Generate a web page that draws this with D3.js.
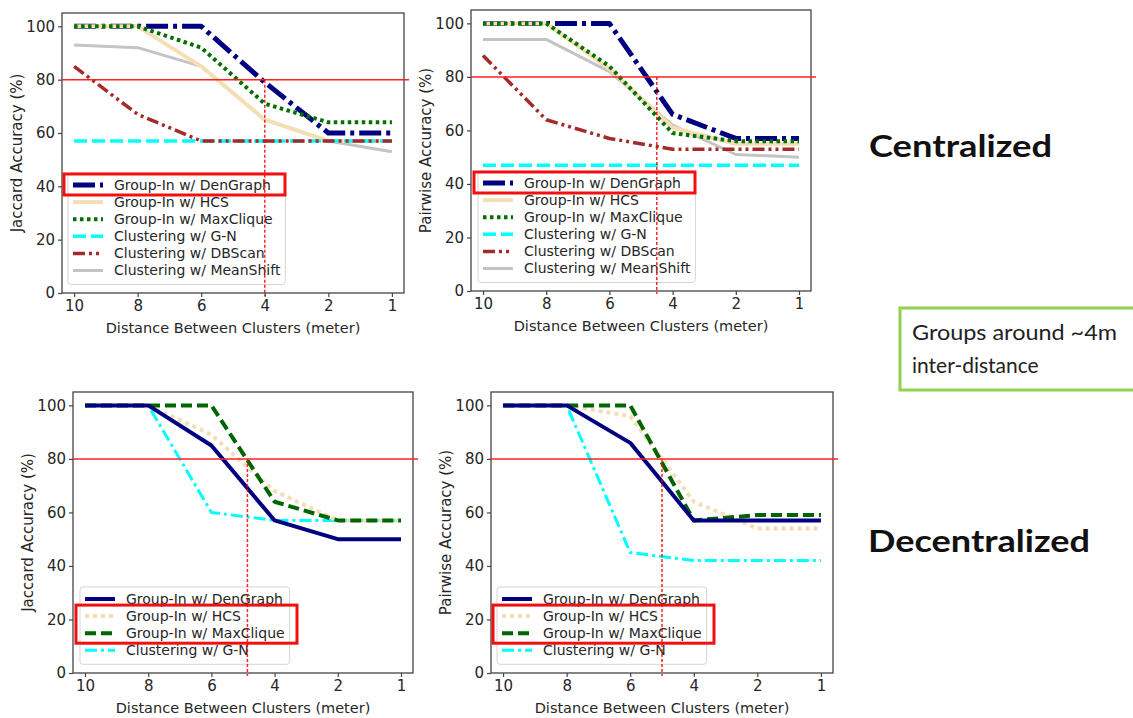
<!DOCTYPE html>
<html>
<head>
<meta charset="utf-8">
<script src="https://cdn.jsdelivr.net/npm/d3@7"></script>
<style>
  body { margin: 0; background: #fff; }
  svg { display: block; }
</style>
</head>
<body>
<svg id="chart"></svg>
<script>
// set data

const distances = ["10", "8", "6", "4", "2", "1"];
const yTicks = [0, 20, 40, 60, 80, 100];

const centralNames = [
  "Group-In w/ DenGraph",
  "Group-In w/ HCS",
  "Group-In w/ MaxClique",
  "Clustering w/ G-N",
  "Clustering w/ DBScan",
  "Clustering w/ MeanShift"
];
const decentralNames = [
  "Group-In w/ DenGraph",
  "Group-In w/ HCS",
  "Group-In w/ MaxClique",
  "Clustering w/ G-N"
];

// centralized, jaccard (series in the order of centralNames)
const centralJaccard = [
  [100, 100, 100, 79, 60, 60],
  [100, 100, 85, 65, 57, 57],
  [100, 100, 92, 71, 64, 64],
  [57, 57, 57, 57, 57, 57],
  [85, 67, 57, 57, 57, 57],
  [93, 92, 85, 65, 57, 53]
];

// centralized, pairwise
const centralPairwise = [
  [100, 100, 100, 66, 57, 57],
  [100, 100, 83, 61, 55, 55],
  [100, 100, 84, 59, 56, 56],
  [47, 47, 47, 47, 47, 47],
  [88, 64, 57, 53, 53, 53],
  [94, 94, 82, 62, 51, 50]
];

// decentralized, jaccard
const decentralJaccard = [
  [100, 100, 85, 57, 50, 50],
  [100, 100, 89, 68, 57, 57],
  [100, 100, 100, 64, 57, 57],
  [100, 100, 60, 57, 57, 57]
];

// decentralized, pairwise
const decentralPairwise = [
  [100, 100, 86, 57, 57, 57],
  [100, 100, 96, 64, 54, 54],
  [100, 100, 100, 57, 59, 59],
  [100, 100, 45, 42, 42, 42]
];

// 80% threshold and where each panel crosses it (in distance-index units)
const threshold = 80;
const crossings = [3, 2.75, 2.57, 2.5];

// line styles

const centralStyles = [
  { color: "#000080", width: 5, dash: "22,5,4,5" },
  { color: "#f5deb3", width: 4, dash: null },
  { color: "#007000", width: 4, dash: "3.5,3.5" },
  { color: "#00ffff", width: 3.5, dash: "13,5" },
  { color: "#a52a2a", width: 3.5, dash: "12,4,3,4,3,4" },
  { color: "#c4c4c4", width: 3, dash: null }
];
const decentralStyles = [
  { color: "#000080", width: 4, dash: null },
  { color: "#f5deb3", width: 4, dash: "4,4" },
  { color: "#006400", width: 4, dash: "11,5" },
  { color: "#00ffff", width: 3, dash: "12,4,3,4" }
];

// paint order of the series (first is lowest)
const centralOrder = [5, 0, 1, 2, 3, 4];
const decentralOrder = [3, 1, 2, 0];

const panels = [
  { data: centralJaccard, names: centralNames, styles: centralStyles, order: centralOrder,
    ylabel: "Jaccard Accuracy (%)", box: { l: 62, r: 404, t: 13, b: 293 },
    legend: { hx: 73, row0: 185 }, mark: [0, 0] },
  { data: centralPairwise, names: centralNames, styles: centralStyles, order: centralOrder,
    ylabel: "Pairwise Accuracy (%)", box: { l: 471, r: 811, t: 10, b: 291 },
    legend: { hx: 483, row0: 183 }, mark: [0, 0] },
  { data: decentralJaccard, names: decentralNames, styles: decentralStyles, order: decentralOrder,
    ylabel: "Jaccard Accuracy (%)", box: { l: 73, r: 413, t: 392, b: 673 },
    legend: { hx: 85, row0: 599 }, mark: [1, 2] },
  { data: decentralPairwise, names: decentralNames, styles: decentralStyles, order: decentralOrder,
    ylabel: "Pairwise Accuracy (%)", box: { l: 491, r: 833, t: 392, b: 673 },
    legend: { hx: 502, row0: 599 }, mark: [1, 2] }
];

const width = 1133, height = 718;
const font = "'DejaVu Sans', sans-serif";
const textColor = "#262626";
const rowGap = 17.1;

const svg = d3.select("#chart")
              .attr("width", width)
              .attr("height", height)
              .style("font-family", font);

panels.forEach((p, pi) => {
  const b = p.box;

  // create scales
  const x = d3.scaleLinear()
              .domain([-0.19, distances.length - 1 + 0.19])
              .range([b.l, b.r]);
  const y = d3.scaleLinear()
              .domain([0, 105])
              .range([b.b, b.t]);

  const g = svg.append("g");

  // frame
  g.append("rect")
   .attr("x", b.l).attr("y", b.t)
   .attr("width", b.r - b.l).attr("height", b.b - b.t)
   .attr("fill", "none")
   .attr("stroke", "#444")
   .attr("stroke-width", 1.3);

  // add axes
  const xAxis = g.append("g")
                 .attr("transform", `translate(0,${b.b})`)
                 .call(d3.axisBottom(x)
                         .tickValues(d3.range(distances.length))
                         .tickFormat(i => distances[i])
                         .tickSize(4)
                         .tickPadding(3));
  const yAxis = g.append("g")
                 .attr("transform", `translate(${b.l},0)`)
                 .call(d3.axisLeft(y)
                         .tickValues(yTicks)
                         .tickSize(4)
                         .tickPadding(3));

  [xAxis, yAxis].forEach(a => {
    a.select(".domain").remove();
    a.selectAll(".tick line").attr("stroke", "#444").attr("stroke-width", 1.2);
    a.selectAll(".tick text")
     .attr("fill", textColor)
     .style("font-family", font)
     .style("font-size", "15px");
  });

  // axis titles
  g.append("text")
   .attr("x", (b.l + b.r) / 2)
   .attr("y", b.b + 40)
   .attr("text-anchor", "middle")
   .attr("fill", textColor)
   .style("font-size", "14.5px")
   .text("Distance Between Clusters (meter)");

  g.append("text")
   .attr("transform", `translate(${b.l - 45},${(b.t + b.b) / 2}) rotate(-90)`)
   .attr("dy", "0.35em")
   .attr("text-anchor", "middle")
   .attr("fill", textColor)
   .style("font-size", "15px")
   .text(p.ylabel);

  // draw the lines
  const line = d3.line()
                 .x((d, i) => x(i))
                 .y(d => y(d));

  g.selectAll(".series")
   .data(p.order)
   .enter()
   .append("path")
   .attr("class", "series")
   .attr("d", k => line(p.data[k]))
   .attr("fill", "none")
   .attr("stroke", k => p.styles[k].color)
   .attr("stroke-width", k => p.styles[k].width)
   .attr("stroke-dasharray", k => p.styles[k].dash)
   .attr("stroke-linejoin", "round");

  // legend
  const lg = g.append("g");
  const frame = lg.append("rect");
  const hx = p.legend.hx, tx = hx + 41;
  let textEnd = 0;

  p.names.forEach((name, i) => {
    const cy = p.legend.row0 + i * rowGap;
    const s = p.styles[i];
    lg.append("line")
      .attr("x1", hx).attr("x2", hx + 30)
      .attr("y1", cy).attr("y2", cy)
      .attr("stroke", s.color)
      .attr("stroke-width", s.width)
      .attr("stroke-dasharray", s.dash);
    const t = lg.append("text")
                .attr("x", tx)
                .attr("y", cy)
                .attr("dy", "0.35em")
                .attr("fill", textColor)
                .style("font-size", "14px")
                .text(name);
    textEnd = Math.max(textEnd, tx + t.node().getComputedTextLength());
  });

  const n = p.names.length;
  frame.attr("x", hx - 5)
       .attr("y", p.legend.row0 - 12)
       .attr("width", textEnd + 5 - (hx - 5))
       .attr("height", (n - 1) * rowGap + 26)
       .attr("rx", 3)
       .attr("fill", "#fff")
       .attr("fill-opacity", 0.85)
       .attr("stroke", "#d5d5d5")
       .attr("stroke-width", 1);

  // red highlight around the legend entries
  const m = p.mark;
  g.append("rect")
   .attr("x", hx - 9)
   .attr("y", p.legend.row0 + m[0] * rowGap - 11)
   .attr("width", 221)
   .attr("height", (m[1] - m[0]) * rowGap + 21)
   .attr("fill", "none")
   .attr("stroke", "#f01010")
   .attr("stroke-width", 3);

  // 80% threshold line and crossing marker
  g.append("line")
   .attr("x1", b.l).attr("x2", b.r + 5)
   .attr("y1", y(threshold)).attr("y2", y(threshold))
   .attr("stroke", "#ff2020")
   .attr("stroke-width", 1.5);

  g.append("line")
   .attr("x1", x(crossings[pi])).attr("x2", x(crossings[pi]))
   .attr("y1", y(threshold)).attr("y2", y(0) + 3)
   .attr("stroke", "#ff0000")
   .attr("stroke-width", 1.5)
   .attr("stroke-opacity", 0.85)
   .attr("stroke-dasharray", "3,2");
});

// side labels

const labelFont = "Lato, 'Open Sans', sans-serif";

svg.append("text")
   .attr("x", 869).attr("y", 157)
   .attr("textLength", 183)
   .attr("lengthAdjust", "spacingAndGlyphs")
   .style("font-family", labelFont)
   .style("font-weight", "bold")
   .style("font-size", "31px")
   .attr("fill", "#111")
   .text("Centralized");

svg.append("text")
   .attr("x", 868).attr("y", 552)
   .attr("textLength", 222)
   .attr("lengthAdjust", "spacingAndGlyphs")
   .style("font-family", labelFont)
   .style("font-weight", "bold")
   .style("font-size", "31px")
   .attr("fill", "#111")
   .text("Decentralized");

svg.append("rect")
   .attr("x", 900).attr("y", 308)
   .attr("width", 260).attr("height", 82)
   .attr("fill", "#fff")
   .attr("stroke", "#92d050")
   .attr("stroke-width", 3);

svg.append("text")
   .attr("x", 912).attr("y", 340)
   .attr("textLength", 205)
   .attr("lengthAdjust", "spacingAndGlyphs")
   .style("font-family", labelFont)
   .style("font-size", "21px")
   .attr("fill", "#222")
   .text("Groups around ~4m");

svg.append("text")
   .attr("x", 912).attr("y", 373)
   .style("font-family", labelFont)
   .style("font-size", "21px")
   .attr("fill", "#222")
   .text("inter-distance");
</script>
</body>
</html>
